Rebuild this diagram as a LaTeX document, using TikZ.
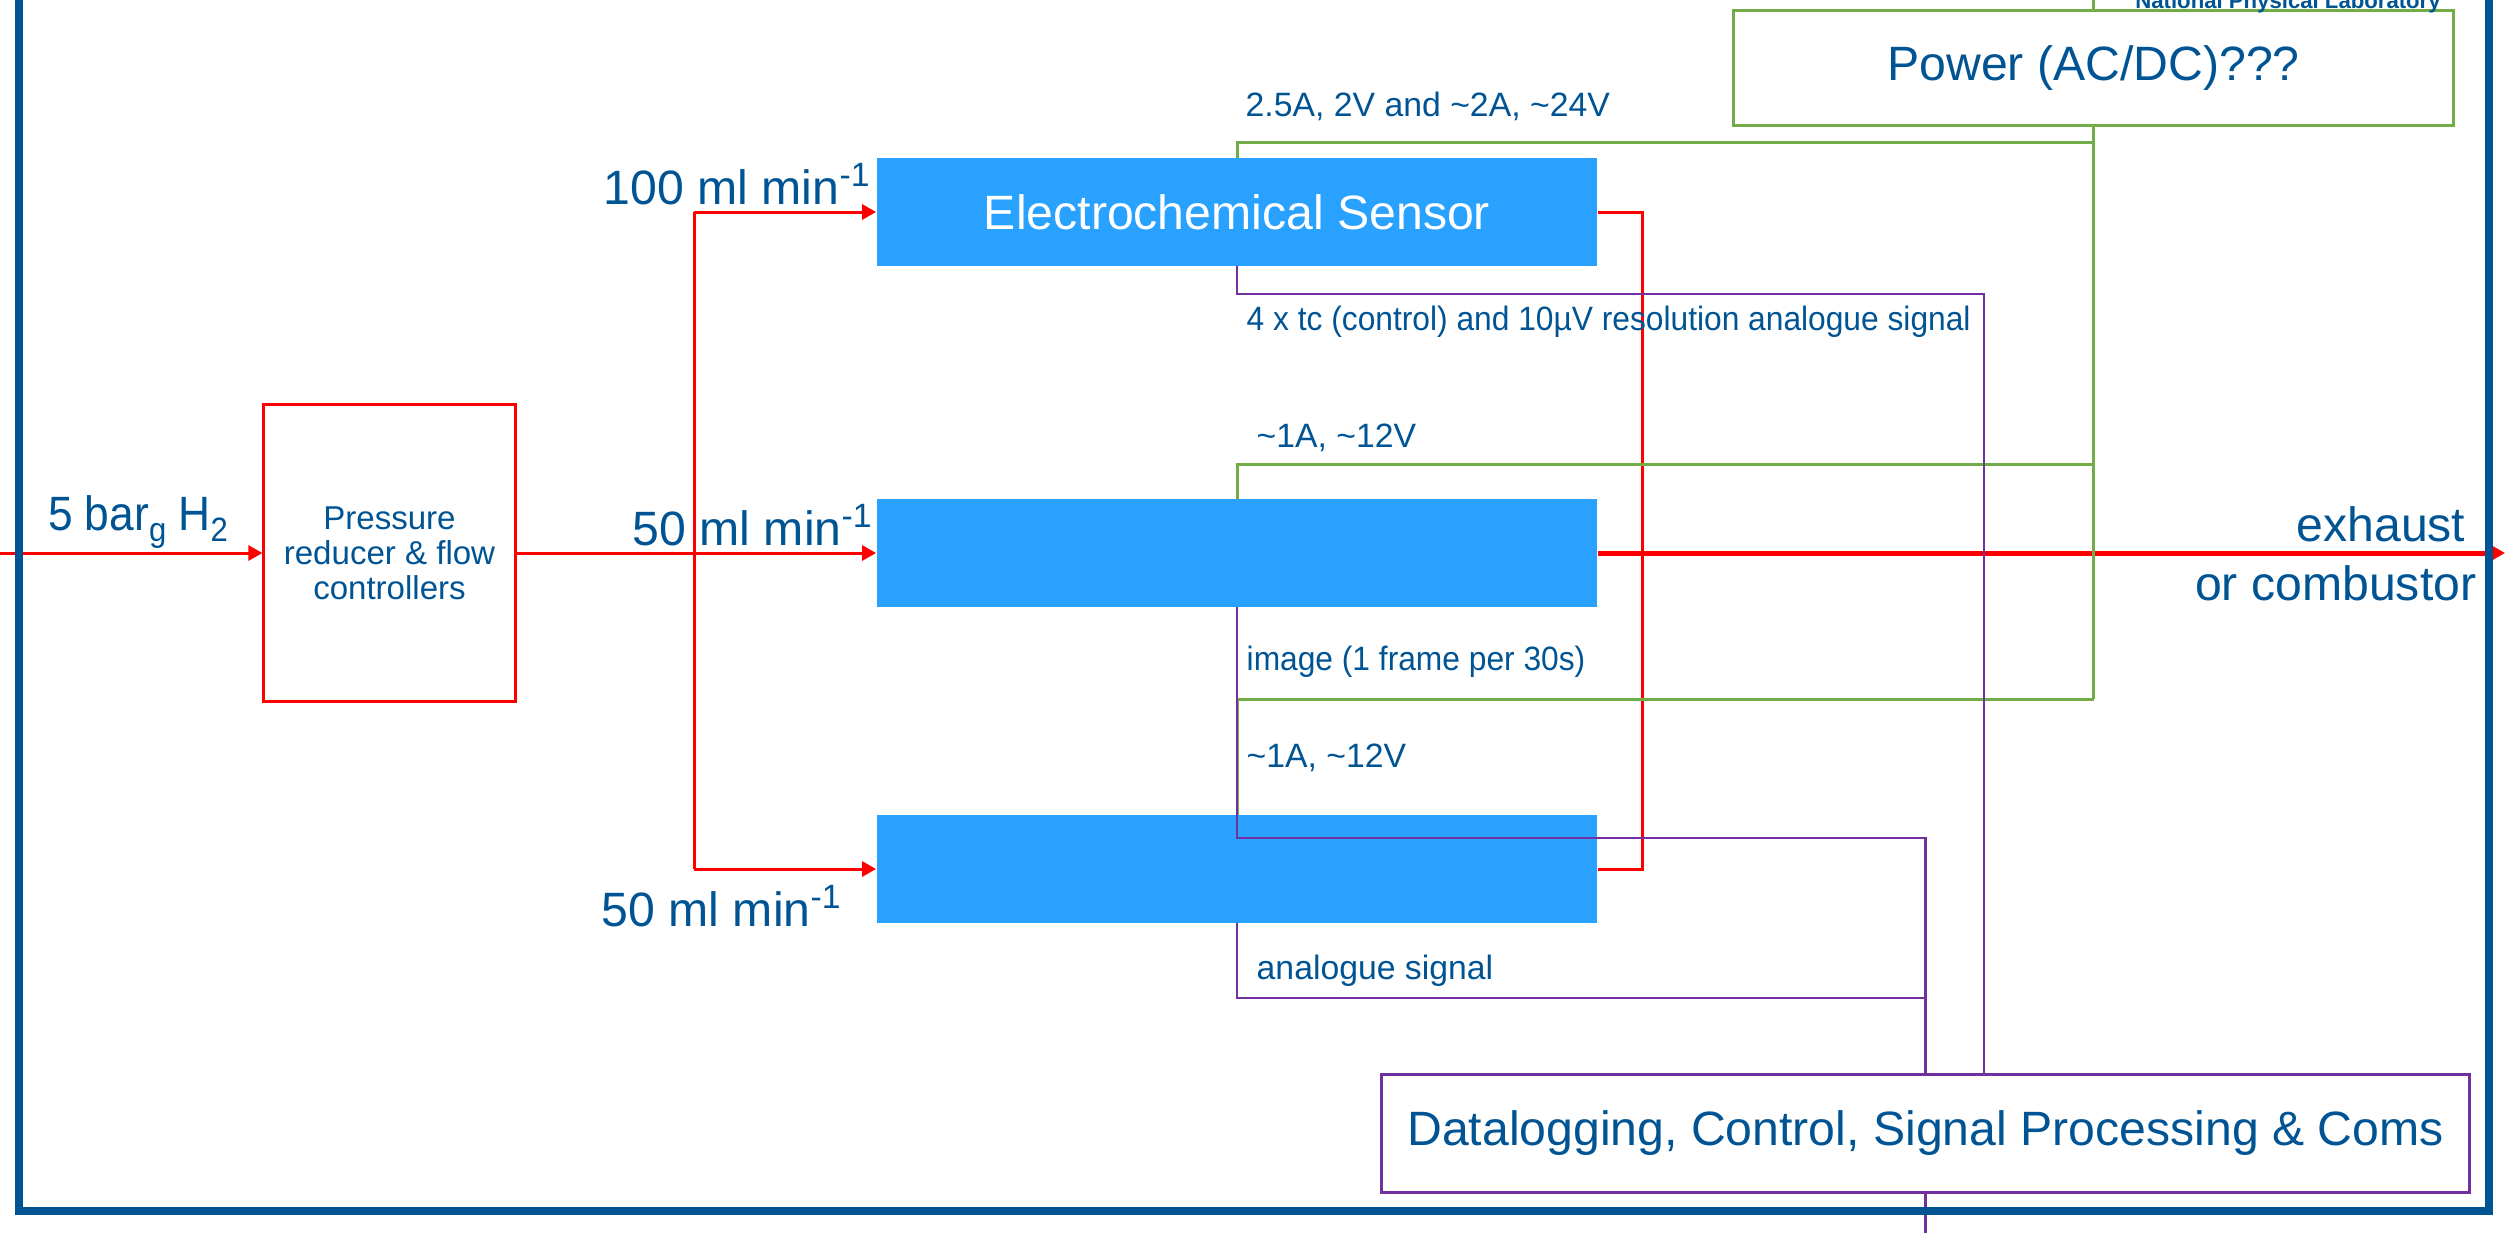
\documentclass[tikz,border=0pt]{standalone}
\usepackage{fontspec}
\setmainfont{Liberation Sans}
\usepackage{tikz}
\usetikzlibrary{arrows.meta,calc}
\usetikzlibrary{positioning}
\definecolor{nplblue}{RGB}{0,84,148}
\definecolor{sensblue}{RGB}{41,161,255}
\definecolor{pwrgreen}{RGB}{112,173,71}
\definecolor{sigpurple}{RGB}{112,48,160}
\newcommand{\lblbig}{\fontsize{13.7}{16.8}\selectfont}
\newcommand{\lblsmall}{\fontsize{9.6}{11.5}\selectfont}
\newcommand{\lowsub}[1]{\raisebox{-0.45ex}{\fontsize{9.6}{10}\selectfont #1}}
\tikzset{gasline/.style={draw=red,line width=0.03cm},
  pwrline/.style={draw=pwrgreen,line width=0.03cm},
  sigline/.style={draw=sigpurple,line width=0.028cm},
  sensor/.style={fill=sensblue,text=white,minimum width=7.2cm,minimum height=1.07cm,inner sep=0,font=\lblbig},
  bigtxt/.style={text=nplblue,font=\lblbig,inner sep=0},
  smalltxt/.style={text=nplblue,font=\lblsmall,inner sep=0,anchor=west}}

\begin{document}
\begin{tikzpicture}[x=0.01cm,y=-0.01cm,>={Triangle[length=0.14cm,width=0.15cm]},line join=miter]
\useasboundingbox (0,0) rectangle (2509,1232);
% --- boxes
\node[draw=red,line width=0.03cm,minimum width=2.51cm,minimum height=2.96cm,align=center,text=nplblue,font=\fontsize{9.4}{10}\selectfont] (press) at (389.5,553) {Pressure\\reducer \& flow\\controllers};
\node[sensor] (s1) at (1237,212) {Electrochemical Sensor};
\node[sensor] (s2) at (1237,553) {};
\node[sensor] (s3) at (1237,869) {};
\node[draw=pwrgreen,fill=white,line width=0.03cm,minimum width=7.19cm,minimum height=1.14cm,bigtxt] (power) at (2093.5,68) {Power (AC/DC)???};
\node[draw=sigpurple,fill=white,line width=0.03cm,minimum width=10.87cm,minimum height=1.17cm,bigtxt] (dl) at (1925.5,1133.5) {Datalogging, Control, Signal Processing \& Coms};
\node[text=nplblue,font=\fontsize{6.3}{7}\selectfont\bfseries,inner sep=0,anchor=base] (npl) at (2288,8) {National Physical Laboratory};
% --- gas flow
\coordinate (in) at (0,553);
\coordinate (jl) at (694,553);
\coordinate (jr) at (1642,553);
\coordinate (out) at (2505,553);
\draw[gasline,->] (in) -- (press.west);
\draw[gasline,->] (press.east) -- (s2.west);
\draw[gasline] (jl |- s1.west) -- (jl |- s3.west);
\draw[gasline,->] (jl |- s1.west) -- (s1.west);
\draw[gasline,->] (jl |- s3.west) -- (s3.west);
\draw[gasline] (s1.east) -| (jr |- s3.east) -- (s3.east);
\draw[gasline,line width=0.05cm,->] (s2.east) -- (out);
% --- power
\coordinate (g1) at (power.south |- 0,142);
\coordinate (g2) at (power.south |- 0,464);
\coordinate (g3) at (power.south |- 0,699);
\draw[pwrline] (power.north) -- (power.north |- 0,-20);
\draw[pwrline] (power.south) -- (g3);
\draw[pwrline] (s1.north) |- (g1);
\draw[pwrline] (s2.north) |- (g2);
\draw[pwrline] (s3.north) |- (g3);
% --- signals
\coordinate (d1) at (1984,294);
\coordinate (d2) at (dl.north |- 0,838);
\draw[sigline] (s1.south) |- (d1) -- (d1 |- dl.north);
\draw[sigline] (s2.south) |- (d2) -- (dl.north);
\draw[sigline] (s3.south) |- (dl.north |- 0,998);
\draw[sigline] (dl.south) -- (dl.south |- 0,1250);
% --- labels
\node[bigtxt] (inlbl) at (138,522) {\scalebox{0.92}[1]{5 bar\lowsub{g} H\lowsub{2}}};
\node[bigtxt,anchor=east] (f1) at (872,184) {100 ml min\textsuperscript{-1}};
\node[bigtxt,anchor=east] (f2) at (874,525) {50 ml min\textsuperscript{-1}};
\node[bigtxt,anchor=east] (f3) at (843,906) {50 ml min\textsuperscript{-1}};
\node[bigtxt,anchor=east,align=right] (exh) at (2477,554) {exhaust\kern0.11cm\\or combustor};
\node[smalltxt] (l1) at (1245,106) {2.5A, 2V and \textasciitilde2A, \textasciitilde24V};
\node[smalltxt] (l2) at (1246,322) {\scalebox{0.94}[1]{4 x tc (control) and 10µV resolution analogue signal}};
\node[smalltxt] (l3) at (1256,438) {\textasciitilde1A, \textasciitilde12V};
\node[smalltxt] (l4) at (1246,662) {\scalebox{0.94}[1]{image (1 frame per 30s)}};
\node[smalltxt] (l5) at (1246,758) {\textasciitilde1A, \textasciitilde12V};
\node[smalltxt] (l6) at (1256,971) {analogue signal};
% --- frame
\draw[nplblue,line width=0.08cm] (19,-50) -- (19,1211) -- (2489,1211) -- (2489,-50);
\end{tikzpicture}
\end{document}
